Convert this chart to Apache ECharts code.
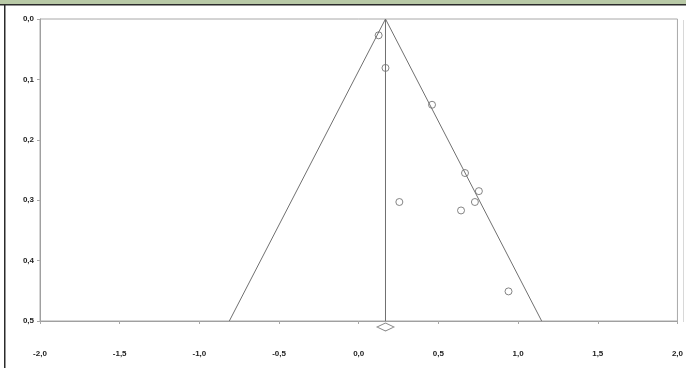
<!DOCTYPE html>
<html>
<head>
<meta charset="utf-8">
<style>
  html, body { margin: 0; padding: 0; background: #fff; }
  #chart { width: 686px; height: 368px; }
</style>
<script src="https://cdn.jsdelivr.net/npm/echarts@6/dist/echarts.min.js"></script>
</head>
<body>
<div id="chart"></div>
<script>
// Study effect sizes (x) and standard errors (y)
var effectSizes = [0.125, 0.168, 0.46, 0.667, 0.754, 0.729, 0.642, 0.255, 0.94];
var standardErrors = [0.027, 0.081, 0.142, 0.255, 0.285, 0.303, 0.317, 0.303, 0.451];
// Pooled estimate and funnel limits
var pooled = [0.168];
var funnelLeft = [[0.168, 0], [-0.812, 0.5]];
var funnelRight = [[0.168, 0], [1.148, 0.5]];
var centerLine = [[0.168, 0], [0.168, 0.5]];
var xTicks = [-2, -1.5, -1, -0.5, 0, 0.5, 1, 1.5, 2];
var yTicks = [0, 0.1, 0.2, 0.3, 0.4, 0.5];

var points = effectSizes.map(function (v, i) { return [v, standardErrors[i]]; });
var fmt = function (v) { return v.toFixed(1).replace('.', ','); };
var lineStyle = { color: '#707070', width: 1 };
var FONT = '"Liberation Sans", Arial, sans-serif';

var chart = echarts.init(document.getElementById('chart'), null, { renderer: 'canvas' });
chart.setOption({
  animation: false,
  backgroundColor: '#fff',
  textStyle: { fontFamily: FONT },
  graphic: [
    { type: 'rect', shape: { x: 0, y: 0, width: 686, height: 4 }, style: { fill: '#b8c9a6' }, silent: true },
    { type: 'rect', shape: { x: 0, y: 4, width: 686, height: 1.5 }, style: { fill: '#2b2b2b' }, silent: true },
    { type: 'rect', shape: { x: 4, y: 4, width: 1.5, height: 364 }, style: { fill: '#2b2b2b' }, silent: true },
    { type: 'rect', shape: { x: 683, y: 20, width: 1, height: 302 }, style: { fill: '#d8d8d8' }, silent: true }
  ],
  grid: {
    left: 40, right: 4, top: 19, bottom: 47,
    show: true, borderColor: '#a8a8a8', borderWidth: 1, backgroundColor: 'transparent'
  },
  xAxis: {
    type: 'value', min: xTicks[0], max: xTicks[xTicks.length - 1], interval: 0.5,
    axisLine: { show: true, onZero: false, lineStyle: { color: '#a0a0a0' } },
    axisTick: { show: true, length: 3, lineStyle: { color: '#a8a8a8' } },
    splitLine: { show: false },
    axisLabel: { formatter: fmt, margin: 29, fontSize: 8, fontWeight: 'bold', fontFamily: FONT, color: '#222', showMaxLabel: true, showMinLabel: true }
  },
  yAxis: {
    type: 'value', inverse: true, min: yTicks[0], max: yTicks[yTicks.length - 1], interval: 0.1,
    axisLine: { show: true, onZero: false, lineStyle: { color: '#a0a0a0' } },
    axisTick: { show: true, length: 3, lineStyle: { color: '#a8a8a8' } },
    splitLine: { show: false },
    axisLabel: { formatter: fmt, margin: 6, fontSize: 8, fontWeight: 'bold', fontFamily: FONT, color: '#222' }
  },
  series: [
    { type: 'line', data: funnelLeft, symbol: 'none', lineStyle: lineStyle, silent: true },
    { type: 'line', data: funnelRight, symbol: 'none', lineStyle: lineStyle, silent: true },
    { type: 'line', data: centerLine, symbol: 'none', lineStyle: lineStyle, silent: true },
    {
      type: 'scatter', data: points, symbol: 'circle', symbolSize: 7,
      itemStyle: { color: 'rgba(0,0,0,0)', borderColor: '#666', borderWidth: 1 },
      silent: true
    },
    {
      type: 'scatter', data: pooled.map(function (p) { return [p, 0.5]; }),
      symbol: 'diamond', symbolSize: [17, 8], symbolOffset: [0, 6], clip: false,
      itemStyle: { color: '#fff', borderColor: '#666', borderWidth: 1 },
      silent: true
    }
  ]
});
</script>
</body>
</html>
